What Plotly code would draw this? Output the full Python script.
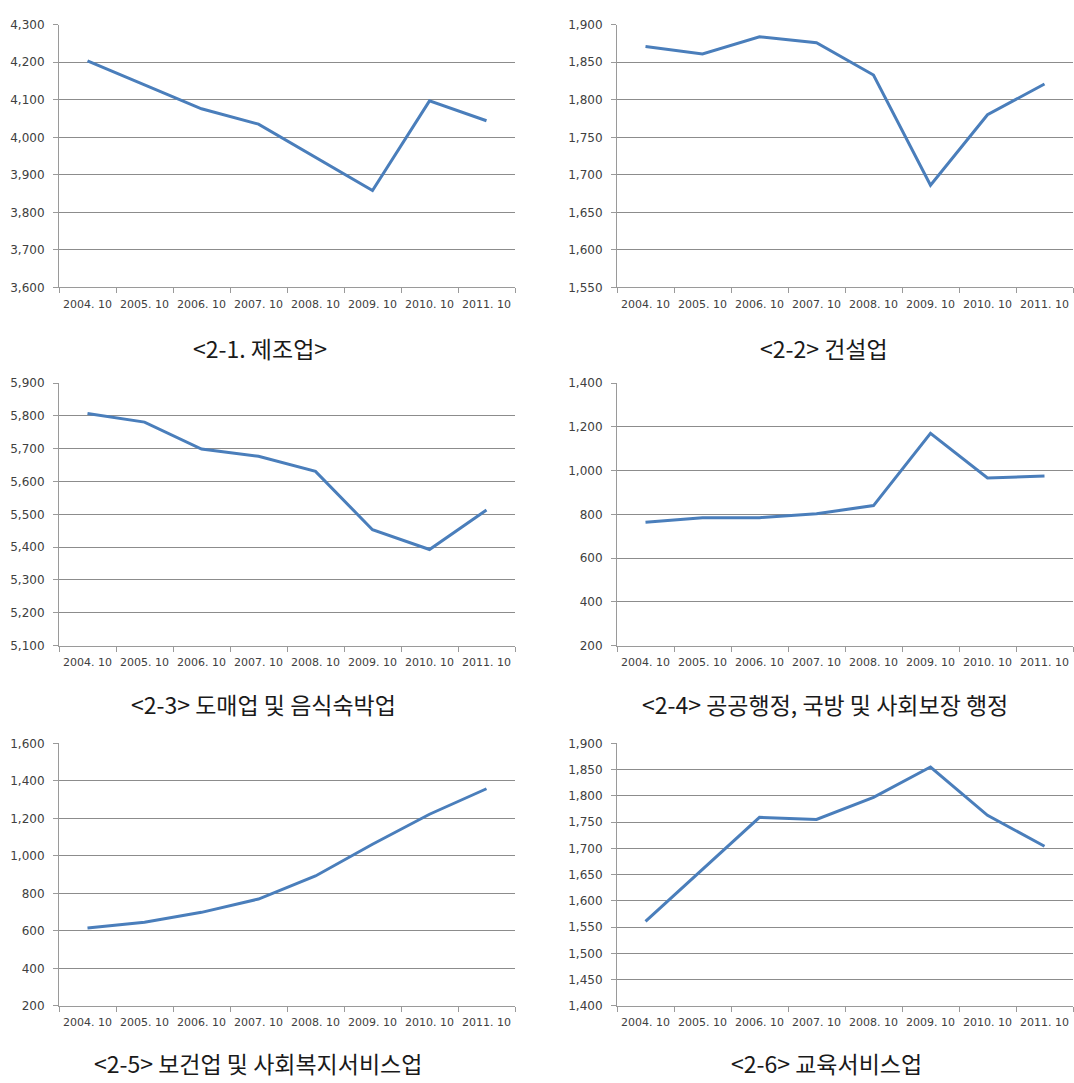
import plotly.graph_objects as go

categories = ["2004. 10", "2005. 10", "2006. 10", "2007. 10",
              "2008. 10", "2009. 10", "2010. 10", "2011. 10"]

manufacturing = [4204, 4140, 4076, 4035, 3947, 3858, 4097, 4044]
construction = [1871, 1861, 1884, 1876, 1833, 1686, 1780, 1821]
wholesale_food = [5807, 5781, 5699, 5677, 5631, 5453, 5393, 5513]
public_admin = [764, 784, 785, 803, 840, 1170, 966, 975]
health_welfare = [615, 646, 699, 770, 893, 1062, 1222, 1358]
education = [1561, 1660, 1759, 1755, 1797, 1855, 1763, 1704]

captions = ["<2-1. 제조업>", "<2-2> 건설업", "<2-3> 도매업 및 음식숙박업",
            "<2-4> 공공행정, 국방 및 사회보장 행정", "<2-5> 보건업 및 사회복지서비스업",
            "<2-6> 교육서비스업"]

series = [manufacturing, construction, wholesale_food, public_admin, health_welfare, education]
y_ranges = [(3600, 4300, 100), (1550, 1900, 50), (5100, 5900, 100),
            (200, 1400, 200), (200, 1600, 200), (1400, 1900, 50)]

W, H = 1074, 1083
col_px = [(59, 515), (617, 1073)]
row_px = [(18, 284), (381, 647), (746, 1012)]
caption_y_px = [345, 706, 1070]
caption_x_px = [[260, 824], [263, 825], [258, 826]]

LINE_COLOR = "#4a7ebb"
GRID = "#8c8c8c"
AXIS = "#9a9a9a"
TXT = "#404040"
FONT = "DejaVu Sans"

fig = go.Figure()
layout = {}
annotations = []
for i, vals in enumerate(series):
    r, c = divmod(i, 2)
    n = i + 1
    xa = "x" if n == 1 else f"x{n}"
    ya = "y" if n == 1 else f"y{n}"
    fig.add_trace(go.Scatter(x=categories, y=vals, mode="lines",
                             line=dict(color=LINE_COLOR, width=3),
                             xaxis=xa, yaxis=ya, showlegend=False,
                             hoverinfo="x+y"))
    x0, x1 = col_px[c]
    top, bot = row_px[r]
    lo, hi, step = y_ranges[i]
    layout[f"xaxis{'' if n == 1 else n}"] = dict(
        domain=[x0 / W, x1 / W], anchor=ya, type="category",
        range=[-0.5, 7.5], showgrid=False, showline=True, linecolor=AXIS,
        linewidth=1, ticks="outside", tickson="boundaries", ticklen=5,
        tickcolor=AXIS, tickangle=0, zeroline=False,
        tickfont=dict(family=FONT, size=11, color=TXT), ticklabelstandoff=6)
    layout[f"yaxis{'' if n == 1 else n}"] = dict(
        domain=[1 - bot / H, 1 - top / H], anchor=xa,
        range=[lo, hi], dtick=step, tick0=lo, tickformat=",",
        showgrid=True, gridcolor=GRID, gridwidth=1, showline=True,
        linecolor=AXIS, linewidth=1, ticks="outside", ticklen=5,
        tickcolor=AXIS, zeroline=False,
        tickfont=dict(family=FONT, size=12, color=TXT), ticklabelstandoff=6)
    annotations.append(dict(
        text=captions[i], x=caption_x_px[r][c] / W, y=1 - caption_y_px[r] / H,
        xref="paper", yref="paper", xanchor="center", yanchor="middle",
        showarrow=False,
        font=dict(family="Noto Sans CJK KR", size=23, color="#1a1a1a")))

fig.update_layout(
    width=W, height=H,
    margin=dict(l=0, r=0, t=0, b=0),
    paper_bgcolor="white", plot_bgcolor="white",
    annotations=annotations,
    **layout)

fig.write_html("out.html")
